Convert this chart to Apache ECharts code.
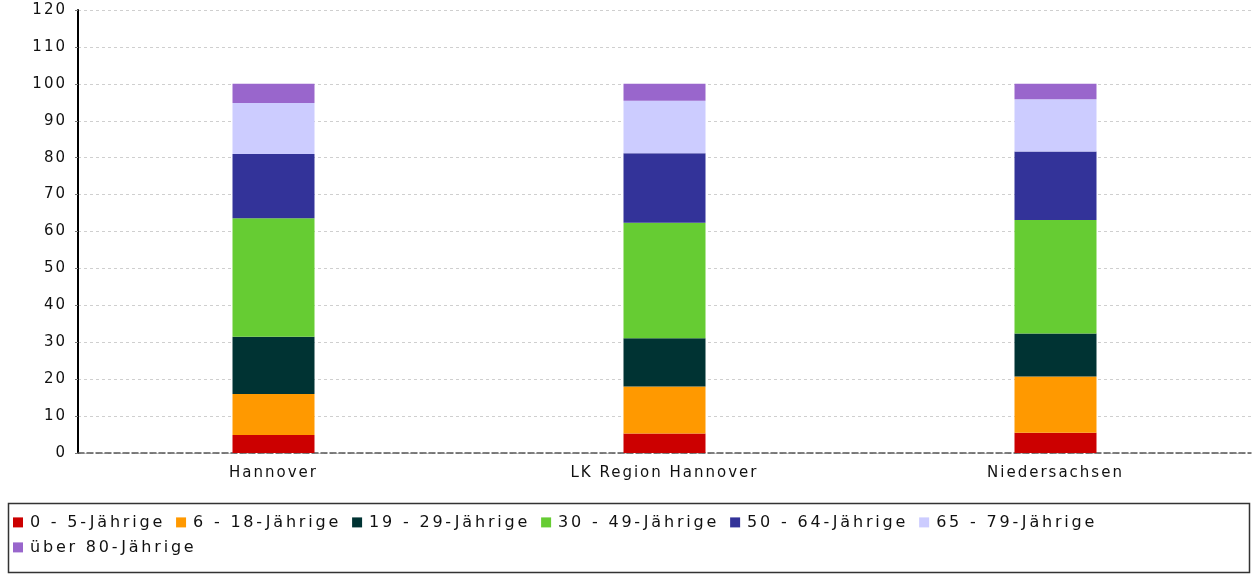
<!DOCTYPE html>
<html>
<head>
<meta charset="utf-8">
<script src="https://cdn.jsdelivr.net/npm/echarts@6/dist/echarts.min.js"></script>
<style>html,body{margin:0;padding:0;background:#fff;}#c{width:1254px;height:575px;}</style>
</head>
<body>
<div id="c"></div>
<script>
var categories = ['Hannover', 'LK Region Hannover', 'Niedersachsen'];
var seriesNames = ['0 - 5-Jährige', '6 - 18-Jährige', '19 - 29-Jährige', '30 - 49-Jährige', '50 - 64-Jährige', '65 - 79-Jährige', 'über 80-Jährige'];
var seriesColors = ['#cc0000', '#ff9900', '#003333', '#66cc33', '#333399', '#ccccff', '#9966cc'];
var age0to5 = [4.9, 5.3, 5.5];
var age6to18 = [11.1, 12.7, 15.2];
var age19to29 = [15.5, 13.1, 11.7];
var age30to49 = [32.1, 31.3, 30.7];
var age50to64 = [17.4, 18.8, 18.6];
var age65to79 = [13.8, 14.2, 14.1];
var age80plus = [5.2, 4.6, 4.2];
var seriesData = [age0to5, age6to18, age19to29, age30to49, age50to64, age65to79, age80plus];
var yTicks = [0, 10, 20, 30, 40, 50, 60, 70, 80, 90, 100, 110, 120];

// letter spacing like the original Java chart font (depends on font size)
(function () {
  function ls(ctx) {
    var m = /(\d+(?:\.\d+)?)px/.exec(ctx.font || '');
    var size = m ? parseFloat(m[1]) : 12;
    ctx.letterSpacing = (size >= 16 ? 2.8 : 2) + 'px';
  }
  var P = CanvasRenderingContext2D.prototype;
  var of = P.fillText, om = P.measureText, os = P.strokeText;
  P.fillText = function () { ls(this); return of.apply(this, arguments); };
  P.strokeText = function () { ls(this); return os.apply(this, arguments); };
  P.measureText = function () { ls(this); return om.apply(this, arguments); };
})();

var font = 'DejaVu Sans';
var legendText = { fontFamily: font, fontSize: 16, color: '#111', padding: [0, 0, 0, 2] };
var chart = echarts.init(document.getElementById('c'));
chart.setOption({
  animation: false,
  backgroundColor: '#fff',
  grid: { left: 78, right: 3, top: 10, bottom: 122, containLabel: false },
  graphic: [{
    type: 'rect',
    shape: { x: 8.5, y: 503.5, width: 1241, height: 69 },
    style: { fill: 'none', stroke: '#333', lineWidth: 1.5 },
    z: -1
  }],
  legend: [{
    left: 13, top: 513, width: 1200,
    itemWidth: 10, itemHeight: 10, itemGap: 11,
    icon: 'rect', padding: 0,
    textStyle: legendText,
    data: seriesNames.slice(0, 6)
  }, {
    left: 13, top: 538, width: 1200,
    itemWidth: 10, itemHeight: 10, itemGap: 11,
    icon: 'rect', padding: 0,
    textStyle: legendText,
    data: seriesNames.slice(6)
  }],
  xAxis: {
    type: 'category',
    data: categories,
    axisLine: { show: true, lineStyle: { color: '#555', type: 'dashed', width: 1.5 } },
    axisTick: { show: false },
    axisLabel: { fontFamily: font, fontSize: 15, color: '#111', margin: 12 },
    splitLine: { show: false }
  },
  yAxis: {
    type: 'value',
    min: 0, max: 120, interval: 10,
    axisLine: { show: true, lineStyle: { color: '#000', width: 2 } },
    axisTick: { show: true, length: 3, lineStyle: { color: '#777' } },
    axisLabel: { fontFamily: font, fontSize: 15, color: '#111', margin: 11,
      formatter: function (v) { return yTicks.indexOf(v) >= 0 ? String(v) : ''; } },
    splitLine: { show: true, lineStyle: { color: '#cfcfcf', type: [3, 3], width: 1 } }
  },
  series: seriesNames.map(function (name, i) {
    return {
      name: name,
      type: 'bar',
      stack: 'total',
      barWidth: 82,
      data: seriesData[i],
      itemStyle: { color: seriesColors[i] }
    };
  })
});
</script>
</body>
</html>
